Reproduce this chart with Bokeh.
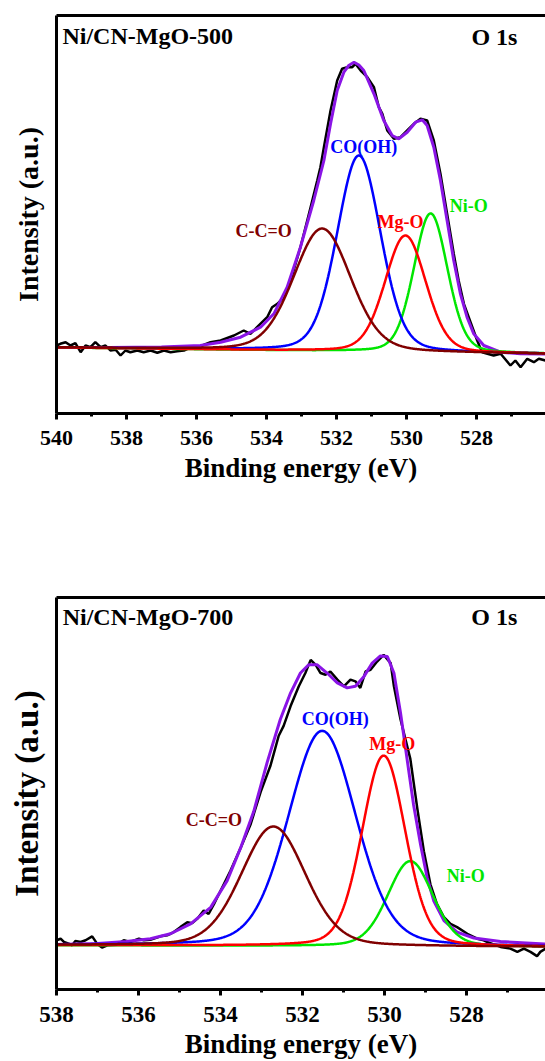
import math
import numpy as np
from bokeh.plotting import figure
from bokeh.models import LinearAxis, FixedTicker, Range1d
from bokeh.layouts import column
from bokeh.embed import file_html
from bokeh.resources import INLINE
from bokeh.core.properties import value

FONT = "Liberation Serif"
PEAK_NAMES = ["C-C=O", "CO(OH)", "Mg-O", "Ni-O"]
PEAK_COLORS = ["#800000", "#0000FF", "#FF0000", "#00E600"]
ENV_COLOR = "#8A14E6"
ETA = 0.2  # Lorentzian fraction of the fitted peaks

# ---------------- Panel A : Ni/CN-MgO-500 ----------------
a_title = "Ni/CN-MgO-500"
a_ticks = [540, 538, 536, 534, 532, 530, 528]
a_minor = [539, 537, 535, 533, 531, 529, 527]
a_center = [532.41, 531.36, 530.03, 529.31]
a_height = [122.5, 196.0, 116.6, 139.0]
a_fwhm = [1.93, 1.47, 1.38, 1.14]
a_bg_E = [526.0, 540.0]
a_bg_I = [59.5, 66.0]
a_env_E = [540.0, 538.5, 537.0, 535.89, 535.31, 534.74, 534.17, 533.79, 533.41, 533.03,
           532.65, 532.36, 532.17, 531.98, 531.79, 531.65, 531.5, 531.36, 531.22, 530.93,
           530.65, 530.41, 530.22, 529.98, 529.74, 529.55, 529.41, 529.22, 529.03, 528.84,
           528.65, 528.46, 528.27, 528.08, 527.79, 527.31, 526.74, 526.03]
a_env_I = [66.0, 66.0, 66.5, 68.0, 71.3, 76.3, 86.3, 99.7, 126.3, 166.3,
           213.0, 253.0, 289.7, 323.0, 341.3, 348.0, 351.3, 348.5, 343.0, 319.7,
           293.0, 278.0, 274.7, 281.3, 291.3, 293.7, 288.0, 266.3, 233.0, 193.0,
           153.0, 119.7, 96.3, 79.7, 68.0, 61.3, 59.8, 59.5]
a_raw_E = [540.0, 539.89, 539.74, 539.6, 539.46, 539.31, 539.17, 539.03, 538.89, 538.74,
           538.6, 538.46, 538.31, 538.17, 538.03, 537.89, 537.69, 537.51, 537.31, 537.12,
           536.93, 536.74, 536.55, 536.36, 536.12, 535.98, 535.6, 535.31, 534.93, 534.65,
           534.46, 534.27, 533.98, 533.84, 533.69, 533.5, 533.31, 533.03, 532.74, 532.55,
           532.46, 532.36, 532.17, 531.98, 531.84, 531.69, 531.55, 531.46, 531.31, 531.12,
           530.93, 530.79, 530.69, 530.55, 530.36, 530.17, 529.98, 529.79, 529.6, 529.41,
           529.22, 529.03, 528.84, 528.65, 528.51, 528.36, 528.17, 527.98, 527.84, 527.51,
           527.31, 527.03, 526.89, 526.74, 526.55, 526.36, 526.22, 526.03]
a_raw_I = [68.0, 69.7, 71.3, 68.0, 70.3, 61.3, 68.0, 66.3, 71.3, 66.3,
           68.0, 63.0, 63.7, 58.0, 63.0, 61.3, 63.0, 61.3, 63.0, 60.7,
           63.0, 61.3, 62.3, 63.0, 67.0, 66.0, 71.3, 73.0, 78.0, 83.0,
           79.7, 86.3, 96.3, 106.3, 109.7, 116.3, 133.0, 166.3, 206.3, 233.0,
           246.3, 266.3, 303.0, 333.0, 344.7, 346.3, 346.3, 349.7, 343.0, 336.3,
           326.3, 306.3, 299.7, 283.0, 274.7, 276.3, 283.0, 289.7, 294.7, 293.0,
           273.0, 239.7, 199.7, 159.7, 133.0, 109.7, 91.3, 73.0, 61.3, 58.0,
           59.7, 48.0, 53.0, 46.3, 54.7, 51.3, 54.7, 53.0]
a_lab_E = [534.08, 531.22, 530.17, 528.22]
a_lab_I = [183.0, 266.3, 191.3, 208.0]

# ---------------- Panel B : Ni/CN-MgO-700 ----------------
b_title = "Ni/CN-MgO-700"
b_ticks = [538, 536, 534, 532, 530, 528]
b_minor = [537, 535, 533, 531, 529, 527]
b_center = [532.71, 531.52, 530.02, 529.37]
b_height = [120.7, 217.5, 192.7, 86.2]
b_fwhm = [1.85, 1.95, 1.25, 1.30]
b_bg_E = [526.0, 538.0]
b_bg_I = [43.0, 44.7]
b_env_E = [538.0, 537.0, 536.3, 535.71, 535.22, 534.73, 534.24, 533.84, 533.51, 533.19,
           532.86, 532.54, 532.29, 532.05, 531.85, 531.64, 531.40, 531.15, 530.91, 530.71,
           530.50, 530.30, 530.10, 529.93, 529.77, 529.61, 529.45, 529.29, 529.12, 528.96,
           528.80, 528.55, 528.23, 527.82, 527.17, 526.07]
b_env_I = [45.5, 46.5, 48.5, 51.3, 56.3, 66.3, 83.0, 109.7, 143.0, 179.7,
           229.7, 273.0, 299.7, 319.7, 328.0, 328.0, 319.7, 309.7, 304.7, 306.3,
           316.3, 329.7, 337.0, 336.3, 319.7, 279.7, 233.0, 186.3, 146.3, 113.0,
           89.7, 69.7, 58.0, 52.0, 48.5, 46.0]
b_raw_E = [537.98, 537.90, 537.82, 537.70, 537.62, 537.54, 537.41, 537.29, 537.13, 537.01,
           536.89, 536.76, 536.52, 536.36, 536.20, 535.99, 535.87, 535.71, 535.46, 535.30,
           535.14, 534.98, 534.81, 534.69, 534.57, 534.41, 534.29, 534.16, 534.08, 533.76,
           533.51, 533.27, 533.02, 532.78, 532.58, 532.46, 532.29, 532.09, 531.93, 531.80,
           531.68, 531.56, 531.44, 531.32, 531.15, 530.99, 530.83, 530.71, 530.59, 530.46,
           530.34, 530.18, 530.02, 529.85, 529.77, 529.61, 529.37, 529.20, 529.04, 528.88,
           528.72, 528.55, 528.39, 528.23, 527.98, 527.74, 527.58, 527.50, 527.17, 526.93,
           526.76, 526.60, 526.44, 526.28, 526.20, 526.07]
b_raw_I = [50.0, 51.3, 48.0, 46.3, 44.7, 49.0, 48.0, 49.7, 53.7, 46.3,
           42.3, 44.7, 45.3, 49.7, 48.0, 51.3, 49.7, 50.3, 53.7, 54.7,
           58.0, 63.0, 68.0, 67.0, 71.3, 79.7, 76.3, 86.3, 93.0, 119.7,
           143.0, 166.3, 199.7, 226.3, 256.3, 266.3, 286.3, 306.3, 319.7, 333.0,
           328.0, 319.7, 318.0, 321.3, 313.0, 306.3, 313.0, 311.3, 304.7, 321.3,
           323.0, 331.3, 338.0, 329.7, 306.3, 273.0, 233.0, 183.0, 139.7, 106.3,
           86.3, 73.0, 66.3, 63.0, 56.3, 51.3, 49.7, 48.0, 43.0, 41.3,
           38.0, 41.3, 38.0, 33.7, 38.0, 41.3]
b_lab_E = [534.16, 531.20, 529.81, 528.02]
b_lab_I = [171.3, 273.0, 248.0, 114.7]


def pv(E, c, h, w):
    d = 4.0 * (E - c) ** 2 / w ** 2
    return h * ((1 - ETA) * np.exp(-math.log(2) * d) + ETA / (1.0 + d))


def make_panel(title, x_start, x_end, y_end, height, b_top, b_bottom, ticks, minor,
               tick_size, centers, heights, fwhms, bg_E, bg_I, env_E, env_I, raw_E, raw_I,
               lab_E, lab_I, title_xy, tag_xy, ylab_size, ylab_standoff, xlab_standoff):
    p = figure(width=545, height=height, x_range=Range1d(x_start, x_end),
               y_range=Range1d(0, y_end), output_backend="svg", toolbar_location=None,
               min_border_left=56, min_border_right=0, min_border_top=b_top,
               min_border_bottom=b_bottom)
    p.grid.visible = False
    p.outline_line_color = None

    xa = p.xaxis[0]
    xa.ticker = FixedTicker(ticks=ticks, minor_ticks=minor)
    xa.axis_line_width = 3
    xa.axis_line_color = "black"
    xa.major_tick_line_width = 3
    xa.minor_tick_line_width = 3
    xa.major_tick_out = 6
    xa.major_tick_in = 0
    xa.minor_tick_out = 3
    xa.minor_tick_in = 0
    xa.major_label_text_font = FONT
    xa.major_label_text_font_style = "bold"
    xa.major_label_text_font_size = tick_size
    xa.major_label_text_color = "black"
    xa.major_label_standoff = 11
    xa.axis_label = "Binding energy (eV)"
    xa.axis_label_text_font = FONT
    xa.axis_label_text_font_style = "bold"
    xa.axis_label_text_font_size = "27px"
    xa.axis_label_text_color = "black"
    xa.axis_label_standoff = xlab_standoff

    ya = p.yaxis[0]
    ya.ticker = FixedTicker(ticks=[])
    ya.major_tick_out = 0
    ya.major_tick_in = 0
    ya.minor_tick_out = 0
    ya.minor_tick_in = 0
    ya.axis_line_width = 3
    ya.axis_line_color = "black"
    ya.major_label_text_font_size = "0px"
    ya.major_label_standoff = 0
    ya.axis_label = "Intensity (a.u.)"
    ya.axis_label_text_font = FONT
    ya.axis_label_text_font_style = "bold"
    ya.axis_label_text_font_size = ylab_size
    ya.axis_label_text_color = "black"
    ya.axis_label_standoff = ylab_standoff

    top = LinearAxis(ticker=FixedTicker(ticks=[]), major_tick_out=0, major_tick_in=0,
                     minor_tick_out=0, minor_tick_in=0, axis_line_width=3,
                     axis_line_color="black", major_label_text_font_size="0px",
                     major_label_standoff=0)
    p.add_layout(top, "above")

    # experimental data
    p.line(raw_E, raw_I, line_color="black", line_width=2.5)
    # envelope
    p.line(env_E, env_I, line_color=ENV_COLOR, line_width=3)
    # fitted components
    E = np.linspace(min(x_start, x_end), max(x_start, x_end), 800)
    bg = np.interp(E, bg_E, bg_I)
    for i in [3, 1, 2, 0]:
        p.line(E, bg + pv(E, centers[i], heights[i], fwhms[i]),
               line_color=PEAK_COLORS[i], line_width=2.5)

    p.text(x=lab_E, y=lab_I, text=PEAK_NAMES, text_color=PEAK_COLORS,
           text_font=value(FONT), text_font_style="bold", text_font_size="18px",
           text_align="center", text_baseline="middle")

    p.text(x=[title_xy[0]], y=[title_xy[1]], text=[title], text_color="black",
           text_font=value(FONT), text_font_style="bold", text_font_size="24px",
           text_align="left", text_baseline="middle")
    p.text(x=[tag_xy[0]], y=[tag_xy[1]], text=["O 1s"], text_color="black",
           text_font=value(FONT), text_font_style="bold", text_font_size="24px",
           text_align="right", text_baseline="middle")
    return p


p1 = make_panel(a_title, 540.0, 540.0 - 489 / 35.0, 398, 505, 15, 92, a_ticks, a_minor,
                "22px", a_center, a_height, a_fwhm, a_bg_E, a_bg_I, a_env_E, a_env_I,
                a_raw_E, a_raw_I, a_lab_E, a_lab_I,
                (539.83, 378.0), (526.83, 377.0), "28px", 13, 5)

p2 = make_panel(b_title, 538.0, 538.0 - 489 / 41.0, 396, 556, 92, 68, b_ticks, b_minor,
                "23px", b_center, b_height, b_fwhm, b_bg_E, b_bg_I, b_env_E, b_env_I,
                b_raw_E, b_raw_I, b_lab_E, b_lab_I,
                (537.85, 376.0), (526.76, 376.0), "33px", 12, 4)

layout = column(p1, p2, spacing=0)
open("out.html", "w").write(file_html(layout, INLINE))
